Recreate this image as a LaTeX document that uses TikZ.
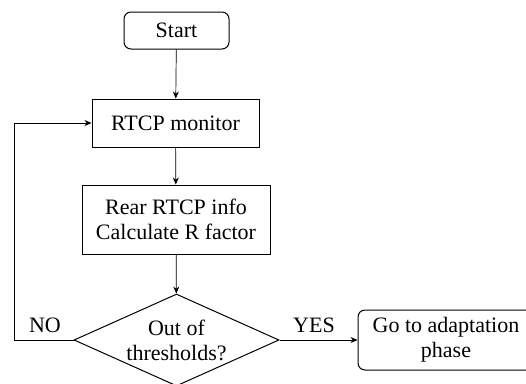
\documentclass[tikz,border=0pt]{standalone}
\usepackage{fontspec}
\setmainfont{Liberation Serif}
\usetikzlibrary{shapes.geometric,arrows.meta}
\begin{document}
\begin{tikzpicture}[x=1pt,y=-1pt,
  box/.style={draw,line width=1pt,inner sep=0pt,font=\fontsize{22}{25}\selectfont,align=center},
  term/.style={box,rounded corners=7pt},
  conn/.style={line width=0.7pt,-{Stealth[length=7pt,width=6pt]}},
  lbl/.style={font=\fontsize{22}{25}\selectfont,inner sep=0pt}]
\useasboundingbox (0,0) rectangle (526,383);
\node[term,minimum width=105pt,minimum height=37pt] (start) at (176.5,30.5) {Start};
\node[box,minimum width=167pt,minimum height=48pt] (mon) at (175.5,123) {RTCP monitor};
\node[box,minimum width=188pt,minimum height=69pt] (calc) at (176,219.5) {Rear RTCP info\\Calculate R factor};
\node[box,shape=diamond,minimum width=205pt,minimum height=92pt,aspect=2.2] (dec) at (176.5,340) {Out of\\thresholds?};
\node[term,minimum width=176pt,minimum height=60pt] (go) at (446,340) {Go to adaptation\\phase};
\coordinate (loop) at (14,340);
\draw[conn] (start) -- (mon);
\draw[conn] (mon) -- (calc);
\draw[conn] (calc) -- (dec);
\draw[conn] (dec.east) -- (go.west);
\draw[conn] (dec.west) -- (loop) |- (mon.west);
\node[lbl] (no) at (45,325) {NO};
\node[lbl] (yes) at (314,325) {YES};
\end{tikzpicture}
\end{document}
